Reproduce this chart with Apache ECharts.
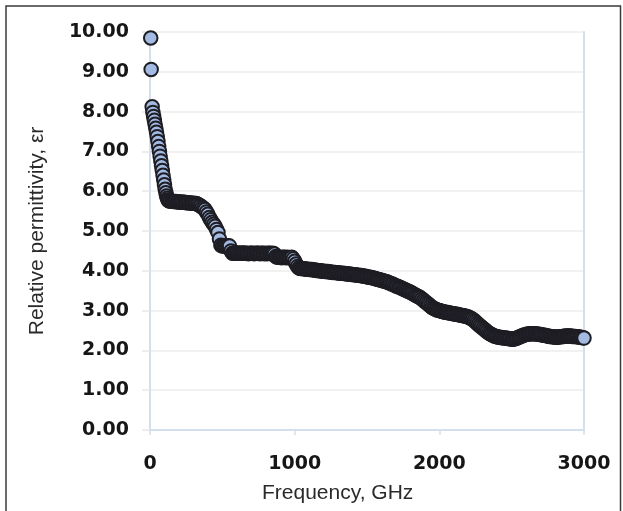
<!DOCTYPE html>
<html>
<head>
<meta charset="utf-8">
<script src="https://cdn.jsdelivr.net/npm/echarts@6/dist/echarts.min.js"></script>
<style>
  html, body { margin: 0; padding: 0; background: #ffffff; }
  #chart { width: 623px; height: 511px; }
</style>
</head>
<body>
<div id="chart"></div>
<script>
// frequency, GHz
const freq = [
  5, 8, 15, 20, 25, 30, 35, 40, 45, 50, 55, 60, 65, 70, 75, 80, 85, 90, 95, 100, 105, 110, 115, 120, 125,
  130, 140, 150, 160, 170, 180, 190,
  200, 210, 220, 230, 240, 250, 260, 270, 280, 290,
  300, 310, 320, 330, 340, 350, 360, 370, 380, 390,
  400, 410, 420, 430, 440, 450, 460, 470, 480, 490,
  500, 510, 520, 530, 540, 550, 560, 570, 580, 590,
  600, 610, 620, 630, 640, 650, 660, 670, 680, 690,
  700, 710, 720, 730, 740, 750, 760, 770, 780, 790,
  800, 810, 820, 830, 840, 850, 860, 870, 880, 890,
  900, 910, 920, 930, 940, 950, 960, 970, 980, 990,
  1000, 1010, 1020, 1030, 1040, 1050, 1060, 1070, 1080, 1090,
  1100, 1110, 1120, 1130, 1140, 1150, 1160, 1170, 1180, 1190,
  1200, 1210, 1220, 1230, 1240, 1250, 1260, 1270, 1280, 1290,
  1300, 1310, 1320, 1330, 1340, 1350, 1360, 1370, 1380, 1390,
  1400, 1410, 1420, 1430, 1440, 1450, 1460, 1470, 1480, 1490,
  1500, 1510, 1520, 1530, 1540, 1550, 1560, 1570, 1580, 1590,
  1600, 1610, 1620, 1630, 1640, 1650, 1660, 1670, 1680, 1690,
  1700, 1710, 1720, 1730, 1740, 1750, 1760, 1770, 1780, 1790,
  1800, 1810, 1820, 1830, 1840, 1850, 1860, 1870, 1880, 1890,
  1900, 1910, 1920, 1930, 1940, 1950, 1960, 1970, 1980, 1990,
  2000, 2010, 2020, 2030, 2040, 2050, 2060, 2070, 2080, 2090,
  2100, 2110, 2120, 2130, 2140, 2150, 2160, 2170, 2180, 2190,
  2200, 2210, 2220, 2230, 2240, 2250, 2260, 2270, 2280, 2290,
  2300, 2310, 2320, 2330, 2340, 2350, 2360, 2370, 2380, 2390,
  2400, 2410, 2420, 2430, 2440, 2450, 2460, 2470, 2480, 2490,
  2500, 2510, 2520, 2530, 2540, 2550, 2560, 2570, 2580, 2590,
  2600, 2610, 2620, 2630, 2640, 2650, 2660, 2670, 2680, 2690,
  2700, 2710, 2720, 2730, 2740, 2750, 2760, 2770, 2780, 2790,
  2800, 2810, 2820, 2830, 2840, 2850, 2860, 2870, 2880, 2890,
  2900, 2910, 2920, 2930, 2940, 2950, 2960, 2970, 2980, 2990,
  3000
]

// relative permittivity
const permittivity = [
  9.85, 9.06, 8.12, 7.98, 7.88, 7.78, 7.68, 7.58, 7.48, 7.37, 7.25, 7.12, 7.0, 6.88, 6.76, 6.64, 6.52, 6.4, 6.28, 6.16, 6.05, 5.96, 5.88, 5.82, 5.78,
  5.76, 5.75, 5.75, 5.74, 5.74, 5.74, 5.73,
  5.73, 5.73, 5.72, 5.72, 5.72, 5.71, 5.71, 5.71, 5.70, 5.70,
  5.70, 5.69, 5.69, 5.67, 5.65, 5.63, 5.60, 5.57, 5.54, 5.48,
  5.42, 5.34, 5.28, 5.22, 5.17, 5.12, 5.04, 4.96, 4.80, 4.64,
  4.62, 4.62, 4.62, 4.62, 4.63, 4.62, 4.50, 4.44, 4.44, 4.45,
  4.45, 4.44, 4.44, 4.44, 4.45, 4.44, 4.44, 4.44, 4.43, 4.44,
  4.44, 4.44, 4.43, 4.44, 4.44, 4.44, 4.43, 4.44, 4.44, 4.43,
  4.44, 4.43, 4.44, 4.44, 4.43, 4.44, 4.42, 4.36, 4.34, 4.34,
  4.34, 4.33, 4.34, 4.34, 4.33, 4.34, 4.33, 4.33, 4.34, 4.30,
  4.24, 4.17, 4.11, 4.07, 4.06, 4.06, 4.05, 4.05, 4.04, 4.04,
  4.03, 4.03, 4.03, 4.02, 4.02, 4.01, 4.01, 4.00, 4.00, 3.99,
  3.99, 3.98, 3.98, 3.98, 3.97, 3.97, 3.96, 3.96, 3.96, 3.95,
  3.95, 3.94, 3.94, 3.94, 3.93, 3.93, 3.92, 3.92, 3.92, 3.91,
  3.91, 3.90, 3.90, 3.89, 3.89, 3.88, 3.88, 3.87, 3.86, 3.86,
  3.85, 3.84, 3.84, 3.83, 3.82, 3.81, 3.80, 3.79, 3.78, 3.77,
  3.76, 3.75, 3.74, 3.73, 3.72, 3.70, 3.69, 3.67, 3.66, 3.64,
  3.62, 3.61, 3.59, 3.58, 3.56, 3.54, 3.53, 3.51, 3.49, 3.48,
  3.46, 3.44, 3.42, 3.40, 3.38, 3.36, 3.34, 3.32, 3.29, 3.26,
  3.23, 3.20, 3.17, 3.14, 3.11, 3.08, 3.06, 3.04, 3.02, 3.01,
  3.00, 2.99, 2.98, 2.97, 2.96, 2.95, 2.95, 2.94, 2.93, 2.93,
  2.92, 2.91, 2.91, 2.90, 2.89, 2.88, 2.88, 2.87, 2.86, 2.85,
  2.84, 2.82, 2.80, 2.78, 2.75, 2.72, 2.68, 2.65, 2.62, 2.59,
  2.56, 2.53, 2.50, 2.47, 2.44, 2.42, 2.40, 2.38, 2.36, 2.35,
  2.34, 2.33, 2.33, 2.32, 2.32, 2.31, 2.31, 2.30, 2.30, 2.29,
  2.28, 2.28, 2.29, 2.30, 2.32, 2.33, 2.35, 2.36, 2.38, 2.39,
  2.40, 2.41, 2.41, 2.42, 2.42, 2.42, 2.42, 2.41, 2.41, 2.40,
  2.40, 2.39, 2.38, 2.38, 2.37, 2.36, 2.35, 2.35, 2.34, 2.34,
  2.33, 2.33, 2.33, 2.34, 2.34, 2.35, 2.35, 2.36, 2.36, 2.36,
  2.36, 2.36, 2.35, 2.35, 2.35, 2.34, 2.34, 2.33, 2.33, 2.32,
  2.31
]

const xTicks = [0, 1000, 2000, 3000]
const yTicks = [0, 1, 2, 3, 4, 5, 6, 7, 8, 9, 10]

const axisBlue = '#d3deee'
const labelStyle = {
  fontFamily: 'DejaVu Sans',
  fontWeight: 'bold',
  fontSize: 19,
  color: '#161616'
}
const nameStyle = {
  fontFamily: 'Liberation Sans',
  fontSize: 21,
  color: '#2a2a2a'
}

const chart = echarts.init(document.getElementById('chart'))

const option = {
  animation: false,
  backgroundColor: '#ffffff',
  graphic: [
    {
      type: 'rect',
      shape: { x: 6, y: 6, width: 614.5, height: 520 },
      style: { fill: 'none', stroke: '#3a3a3a', lineWidth: 1.5 },
      silent: true
    },
    {
      // x axis title sits a little left of the plot centre
      type: 'text',
      left: 262,
      top: 483,
      style: {
        text: 'Frequency, GHz',
        fontFamily: nameStyle.fontFamily,
        fontSize: nameStyle.fontSize,
        fill: nameStyle.color
      },
      silent: true
    }
  ],
  grid: {
    left: 150,
    right: 39,
    top: 32,
    bottom: 81
  },
  xAxis: {
    type: 'value',
    min: xTicks[0],
    max: xTicks[xTicks.length - 1],
    interval: xTicks[1] - xTicks[0],
    axisLine: { show: true, lineStyle: { color: axisBlue, width: 2 } },
    axisTick: { show: true, length: 5, lineStyle: { color: axisBlue, width: 1.5 } },
    axisLabel: { ...labelStyle, margin: 25, formatter: v => String(v) },
    splitLine: { show: false }
  },
  yAxis: [
    {
      type: 'value',
      min: yTicks[0],
      max: yTicks[yTicks.length - 1],
      interval: yTicks[1] - yTicks[0],
      name: 'Relative permittivity, εr',
      nameLocation: 'middle',
      nameGap: 102,
      nameTextStyle: nameStyle,
      axisLine: { show: true, lineStyle: { color: axisBlue, width: 2 } },
      axisTick: { show: true, length: 8, lineStyle: { color: '#e8e8e8', width: 1.5 } },
      axisLabel: {
        ...labelStyle,
        margin: 21,
        formatter: v => v.toFixed(2)
      },
      splitLine: { show: true, lineStyle: { color: '#ececec', width: 1.5 } }
    },
    {
      // right-hand frame line of the plot
      type: 'value',
      position: 'right',
      min: yTicks[0],
      max: yTicks[yTicks.length - 1],
      axisLine: { show: true, lineStyle: { color: axisBlue, width: 2 } },
      axisTick: { show: false },
      axisLabel: { show: false },
      splitLine: { show: false }
    }
  ],
  series: [
    {
      type: 'scatter',
      yAxisIndex: 0,
      symbol: 'circle',
      symbolSize: 13.5,
      data: freq.map((f, i) => [f, permittivity[i]]),
      itemStyle: {
        color: '#a3bae2',
        borderColor: '#1d1d23',
        borderWidth: 2,
        opacity: 1
      }
    }
  ]
}

chart.setOption(option)
</script>
</body>
</html>
